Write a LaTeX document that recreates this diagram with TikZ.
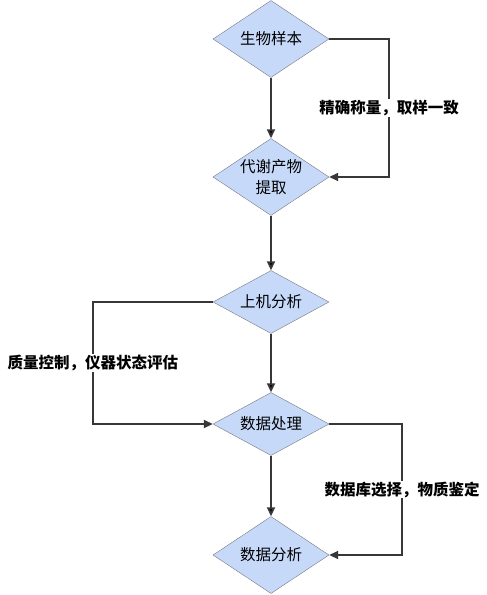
\documentclass[tikz,border=0pt]{standalone}
\usepackage{fontspec}
\setmainfont{Noto Sans CJK SC}
\usetikzlibrary{arrows.meta,shapes.geometric}
\definecolor{boxblue}{RGB}{198,217,249}
\definecolor{edgegray}{RGB}{120,120,130}
\definecolor{linegray}{RGB}{55,55,55}
\tikzset{
    stage/.style={
    diamond,aspect=1.5,inner sep=0pt,draw=edgegray,fill=boxblue,
    minimum width=116pt,font=\fontsize{15.5}{21}\selectfont,align=center
    },
    bigstage/.style={
    minimum height=77pt
    },
    smallstage/.style={
    minimum height=63pt
    },
    flow/.style={
    draw=linegray,line width=1.8pt,-{Triangle[length=9pt,width=8pt]}
    },
    note/.style={
    fill=white,inner sep=1pt,font=\fontsize{15.5}{18}\selectfont\bfseries
    },
}
\begin{document}
\begin{tikzpicture}[x=1pt,y=-1pt]
   \useasboundingbox (0,0) rectangle (487,595);
   \node[stage,bigstage] (sample) at (271,39) {生物样本};
   \node[stage,bigstage] (extract) at (271,177) {代谢产物\\提取};
   \node[stage,smallstage] (run) at (271,302) {上机分析};
   \node[stage,smallstage] (proc) at (271,424) {数据处理};
   \node[stage,bigstage] (result) at (271,555) {数据分析};
   \coordinate (rA) at (389,39);
   \coordinate (lB) at (93,302);
   \coordinate (rC) at (402,424);

  \path[flow]
    (sample) edge (extract)
    (extract) edge (run)
    (run) edge (proc)
    (proc) edge (result);
  % side loops
  \draw[flow] (sample.east) -- (rA) |- node[note,pos=0.25] {精确称量，取样一致} (extract.east);
  \draw[flow] (run.west) -- (lB) |- node[note,pos=0.25] {质量控制，仪器状态评估} (proc.west);
  \draw[flow] (proc.east) -- (rC) |- node[note,pos=0.25] {数据库选择，物质鉴定} (result.east);
\end{tikzpicture}
\end{document}
